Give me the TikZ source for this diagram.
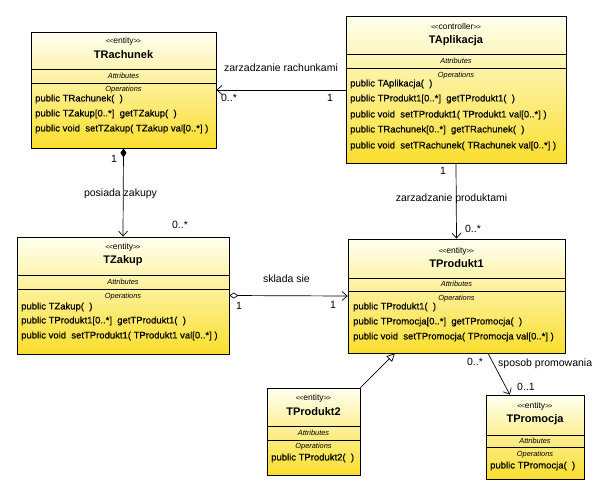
\documentclass[tikz,border=0pt]{standalone}
\usepackage{fontspec}
\setmainfont{Liberation Sans}
\newfontface\opface{Liberation Sans}[FakeBold=0.35]
\usetikzlibrary{arrows.meta,calc}
\definecolor{ylwtop}{RGB}{255,255,240}
\definecolor{ylwmid}{RGB}{255,248,180}
\definecolor{ylwbot}{RGB}{250,222,45}
\newcommand{\stlt}{{\fontsize{7}{7}\selectfont<\kern-0.8pt<}}
\newcommand{\stgt}{{\fontsize{7}{7}\selectfont>\kern-0.8pt>}}
\begin{document}
\begin{tikzpicture}[x=1pt,y=-1pt,
  cls/.style={draw=black, line width=0.8pt, rectangle, inner sep=0pt,
    top color=ylwtop, middle color=ylwmid, bottom color=ylwbot},
  stereo/.style={font=\fontsize{8.5}{9}\selectfont, inner sep=0pt},
  cname/.style={font=\fontsize{11}{13}\selectfont\bfseries, inner sep=0pt},
  compart/.style={font=\fontsize{7.4}{8}\selectfont\itshape, inner sep=0pt},
  op/.style={anchor=west, font=\opface\fontsize{9.5}{11}\selectfont, inner sep=0pt},
  lbl/.style={font=\fontsize{10.5}{12}\selectfont, inner sep=0pt},
  divline/.style={line width=0.8pt},
  assoc/.style={line width=0.7pt, -{Straight Barb[length=5pt,width=9pt]}},
  comp/.style={line width=0.7pt, {Diamond[length=9pt,width=6pt]}-{Straight Barb[length=5pt,width=9pt]}},
  aggr/.style={line width=0.7pt, {Diamond[fill=white,length=9pt,width=6pt]}-{Straight Barb[length=5pt,width=9pt]}},
  gen/.style={line width=0.7pt, -{Triangle[fill=white,length=8pt,width=8pt]}},
]
\useasboundingbox[fill=white] (0,0) rectangle (600,496);

% ---------- TRachunek ----------
\node[cls, minimum width=185pt, minimum height=116pt] (TRach) at (123.5,90) {};
\draw[divline] (TRach.west |- 0,69) -- (TRach.east |- 0,69);
\draw[divline] (TRach.west |- 0,83) -- (TRach.east |- 0,83);
\node[stereo] (TRachS) at (TRach.center |- 0,41) {\stlt entity\stgt};
\node[cname] (TRachN) at (TRach.center |- 0,55) {TRachunek};
\node[compart] (TRachA) at (TRach.center |- 0,76) {Attributes};
\node[compart] (TRachO) at (TRach.center |- 0,90) {Operations};
\node[op] (TRach1) at (35,99) {public TRachunek(~~)};
\node[op] (TRach2) at (35,114) {public TZakup[0..*]~~getTZakup(~~)};
\node[op] (TRach3) at (35,129) {public void~~setTZakup( TZakup val[0..*] )};

% ---------- TAplikacja ----------
\node[cls, minimum width=220pt, minimum height=147pt] (TAp) at (456,89.5) {};
\draw[divline] (TAp.west |- 0,54) -- (TAp.east |- 0,54);
\draw[divline] (TAp.west |- 0,68) -- (TAp.east |- 0,68);
\node[stereo] (TApS) at (TAp.center |- 0,26) {\stlt controller\stgt};
\node[cname] (TApN) at (TAp.center |- 0,41) {TAplikacja};
\node[compart] (TApA) at (TAp.center |- 0,61) {Attributes};
\node[compart] (TApO) at (TAp.center |- 0,76) {Operations};
\node[op] (TAp1) at (350,84) {public TAplikacja(~~)};
\node[op] (TAp2) at (350,99) {public TProdukt1[0..*]~~getTProdukt1(~~)};
\node[op] (TAp3) at (350,115) {public void~~setTProdukt1( TProdukt1 val[0..*] )};
\node[op] (TAp4) at (350,130) {public TRachunek[0..*]~~getTRachunek(~~)};
\node[op] (TAp5) at (350,146) {public void~~setTRachunek( TRachunek val[0..*] )};

% ---------- TZakup ----------
\node[cls, minimum width=212pt, minimum height=117pt] (TZak) at (123,295.5) {};
\draw[divline] (TZak.west |- 0,275) -- (TZak.east |- 0,275);
\draw[divline] (TZak.west |- 0,289) -- (TZak.east |- 0,289);
\node[stereo] (TZakS) at (TZak.center |- 0,247) {\stlt entity\stgt};
\node[cname] (TZakN) at (TZak.center |- 0,261) {TZakup};
\node[compart] (TZakA) at (TZak.center |- 0,282) {Attributes};
\node[compart] (TZakO) at (TZak.center |- 0,297) {Operations};
\node[op] (TZak1) at (21,307) {public TZakup(~~)};
\node[op] (TZak2) at (21,321) {public TProdukt1[0..*]~~getTProdukt1(~~)};
\node[op] (TZak3) at (21,336) {public void~~setTProdukt1( TProdukt1 val[0..*] )};

% ---------- TProdukt1 ----------
\node[cls, minimum width=217pt, minimum height=114pt] (TP1) at (456.5,296) {};
\draw[divline] (TP1.west |- 0,278) -- (TP1.east |- 0,278);
\draw[divline] (TP1.west |- 0,291) -- (TP1.east |- 0,291);
\node[stereo] (TP1S) at (TP1.center |- 0,251) {\stlt entity\stgt};
\node[cname] (TP1N) at (TP1.center |- 0,264) {TProdukt1};
\node[compart] (TP1A) at (TP1.center |- 0,284) {Attributes};
\node[compart] (TP1O) at (TP1.center |- 0,299) {Operations};
\node[op] (TP11) at (353,307) {public TProdukt1(~~)};
\node[op] (TP12) at (353,322) {public TPromocja[0..*]~~getTPromocja(~~)};
\node[op] (TP13) at (353,337) {public void~~setTPromocja( TPromocja val[0..*] )};

% ---------- TProdukt2 ----------
\node[cls, minimum width=93pt, minimum height=87pt] (TP2) at (313.5,431.5) {};
\draw[divline] (TP2.west |- 0,426) -- (TP2.east |- 0,426);
\draw[divline] (TP2.west |- 0,440) -- (TP2.east |- 0,440);
\node[stereo] (TP2S) at (TP2.center |- 0,398) {\stlt entity\stgt};
\node[cname] (TP2N) at (TP2.center |- 0,412) {TProdukt2};
\node[compart] (TP2A) at (TP2.center |- 0,433) {Attributes};
\node[compart] (TP2O) at (TP2.center |- 0,447) {Operations};
\node[op] (TP21) at (271,458) {public TProdukt2(~~)};

% ---------- TPromocja ----------
\node[cls, minimum width=98pt, minimum height=84pt] (TPr) at (535,437) {};
\draw[divline] (TPr.west |- 0,435) -- (TPr.east |- 0,435);
\draw[divline] (TPr.west |- 0,447) -- (TPr.east |- 0,447);
\node[stereo] (TPrS) at (TPr.center |- 0,406) {\stlt entity\stgt};
\node[cname] (TPrN) at (TPr.center |- 0,420) {TPromocja};
\node[compart] (TPrA) at (TPr.center |- 0,441) {Attributes};
\node[compart] (TPrO) at (TPr.center |- 0,455) {Operations};
\node[op] (TPr1) at (490,466) {public TPromocja(~~)};

% ---------- connectors ----------
\draw[assoc] (TAp.west |- TRach.east) -- (TRach.east);
\draw[comp] (TRach.south) -- (TZak.north);
\draw[aggr] (TZak.east) -- (TP1.west);
\draw[assoc] (TAp.south) -- (TP1.north);
\draw[gen] (TP2.north east) -- ($(TP1.south west)!0.217!(TP1.south east)$);
\draw[assoc] ($(TP1.south west)!0.645!(TP1.south east)$) -- ($(TPr.north west)!0.245!(TPr.north east)$);

% ---------- labels ----------
\node[lbl] (l1) at (281,68) {zarzadzanie rachunkami};
\node[lbl] (l2) at (229,98) {0..*};
\node[lbl] (l3) at (330,98) {1};
\node[lbl] (l4) at (114,159) {1};
\node[lbl] (l5) at (120.5,194) {posiada zakupy};
\node[lbl] (l6) at (180,225) {0..*};
\node[lbl] (l7) at (286.5,279) {sklada sie};
\node[lbl] (l8) at (239,306) {1};
\node[lbl] (l9) at (333,305) {1};
\node[lbl] (l10) at (443,171) {1};
\node[lbl] (l11) at (451.5,199) {zarzadzanie produktami};
\node[lbl] (l12) at (473,229) {0..*};
\node[lbl] (l13) at (475,362) {0..*};
\node[lbl, anchor=west] (l14) at (498,364) {sposob promowania};
\node[lbl] (l15) at (526,387) {0..1};
\end{tikzpicture}
\end{document}
